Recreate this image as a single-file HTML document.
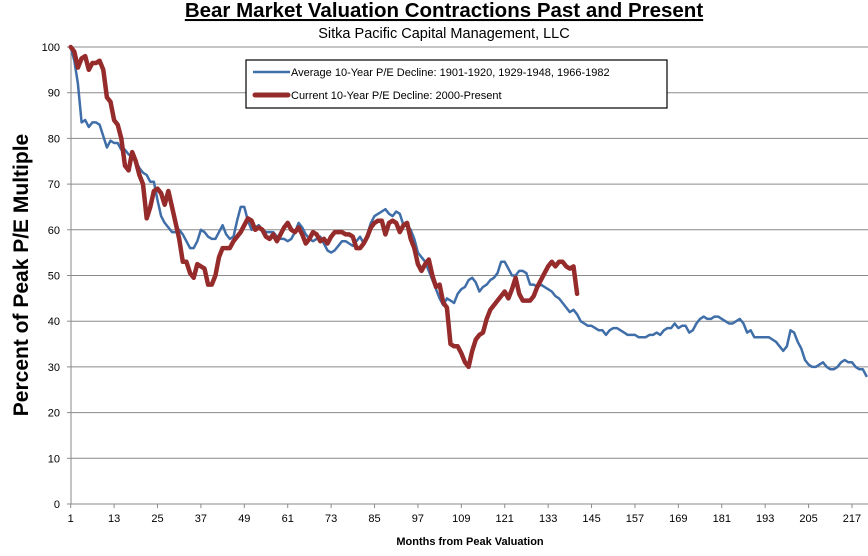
<!DOCTYPE html>
<html><head><meta charset="utf-8"><style>
html,body{margin:0;padding:0;background:#fff;}
svg text{font-family:"Liberation Sans",sans-serif;}
</style></head><body>
<svg id="chart" width="868" height="551" xmlns="http://www.w3.org/2000/svg">
<text x="444" y="17" text-anchor="middle" font-size="20.5" font-weight="bold" text-decoration="underline">Bear Market Valuation Contractions Past and Present</text>
<text x="444" y="38" text-anchor="middle" font-size="14.5">Sitka Pacific Capital Management, LLC</text>
<g id="grid"></g>
<g id="axes"></g>
<g id="series"></g>
<text transform="translate(28,275) rotate(-90)" text-anchor="middle" font-size="21" font-weight="bold">Percent of Peak P/E Multiple</text>
<text x="470" y="545" text-anchor="middle" font-size="11" font-weight="bold">Months from Peak Valuation</text>
<g>
<rect x="246" y="60" width="421" height="48" fill="#fff" stroke="#000" stroke-width="1.2"/>
<line x1="253" y1="72" x2="290" y2="72" stroke="#3f6ea8" stroke-width="2.5"/>
<text x="291" y="76" font-size="11">Average 10-Year P/E Decline: 1901-1920, 1929-1948, 1966-1982</text>
<line x1="255" y1="95" x2="288" y2="95" stroke="#952b2b" stroke-width="5" stroke-linecap="round"/>
<text x="291" y="99" font-size="11">Current 10-Year P/E Decline: 2000-Present</text>
</g>
</svg>
<script>
const yTicks=[0,10,20,30,40,50,60,70,80,90,100];
const xTickLabels=[1,13,25,37,49,61,73,85,97,109,121,133,145,157,169,181,193,205,217];
const averageDecline=[100,97,92,83.5,84,82.5,83.5,83.5,83,80.5,78,79.5,79,79,77.5,77.5,76.5,76,75,73.5,72.5,72,70.5,70.5,66.5,63,61.5,60.5,59.5,59.5,60,59,57.5,56,56,57.5,60,59.5,58.5,58,58,59.5,61,59,58,58.5,62,65,65,62,60,60.5,61,60,59.5,59.5,59.5,58.5,58,58,57.5,58,59.5,61.5,60.5,59,58,57.5,58,58.5,57,55.5,55,55.5,56.5,57.5,57.5,57,56.5,57.5,58.5,57,59,61.5,63,63.5,64,64.5,63.5,63,64,63.5,61,61,60,58,55,54,53,51,49,47,45,43.5,45,44.5,44,46,47,47.5,49,49.5,48.5,46.5,47.5,48,49,49.5,50.5,53,53,51.5,50,50,51,51,50.5,48,48,47.5,48,47.5,47,46.5,45.5,45,44,43,42,42.5,41.5,40,39.5,39,39,38.5,38,38,37,38,38.5,38.5,38,37.5,37,37,37,36.5,36.5,36.5,37,37,37.5,37,38,38.5,38.5,39.5,38.5,39,39,37.5,38,39.5,40.5,41,40.5,40.5,41,41,40.5,40,39.5,39.5,40,40.5,39.5,37.5,38,36.5,36.5,36.5,36.5,36.5,36,35.5,34.5,33.5,34.5,38,37.5,35.5,34,31.5,30.5,30,30,30.5,31,30,29.5,29.5,30,31,31.5,31,31,30,29.5,29.5,28];
const currentDecline=[100,99,95.5,97.5,98,95,96.5,96.5,97,95,89,88,84,83,80,74,73,77,75,72,70,62.5,65,68.5,69,68,65.5,68.5,65,61.5,58,53,53,50.5,49.5,52.5,52,51.5,48,48,50,54,56,56,56,57.5,58.5,59.5,61,62.5,62,60,60.5,60,58.5,58,59,57.5,59,60.5,61.5,60,59.5,60.5,59,57,58,59.5,59,57.5,58,57,58.5,59.5,59.5,59.5,59,59,58.5,56,56,57,58.5,60.5,61.5,62,62,59,61.5,62,61.5,59.5,61,61.5,58,56,52.5,51,52.5,53.5,50,47.5,48,44,43,35,34.5,34.5,33,31,30,33.5,36,37,37.5,40.5,42.5,43.5,44.5,45.5,46.5,45,47,49.5,46,44.5,44.5,44.5,45.5,47.5,49,50.5,52,53,52,53,53,52,51.5,52,46];

const NS="http://www.w3.org/2000/svg";
const X0=70.7, DX=3.617, Y0=504, DY=4.57;
function xs(m){return X0+(m-1)*DX;}
function ys(v){return Y0-v*DY;}
const grid=document.getElementById('grid'), axes=document.getElementById('axes'), ser=document.getElementById('series');
function mk(tag,attrs,parent){const e=document.createElementNS(NS,tag);for(const k in attrs)e.setAttribute(k,attrs[k]);parent.appendChild(e);return e;}
yTicks.forEach(v=>{
  if(v>0){const g=mk('line',{x1:71,x2:868,y1:ys(v),y2:ys(v),stroke:'#8a8a8a','stroke-width':1},grid);
  
  }
  const t=mk('text',{x:60,y:ys(v)+4,'text-anchor':'end','font-size':11},axes);
  t.textContent=v;
  
  
  mk('line',{x1:67,x2:71,y1:ys(v),y2:ys(v),stroke:'#8a8a8a'},axes);
});
const ya=mk('line',{x1:71,x2:71,y1:ys(100),y2:Y0,stroke:'#8a8a8a'},axes);


const xa=mk('line',{x1:71,x2:868,y1:Y0,y2:Y0,stroke:'#8a8a8a'},axes);


xTickLabels.forEach(m=>{
  mk('line',{x1:xs(m),x2:xs(m),y1:Y0,y2:Y0+4,stroke:'#8a8a8a'},axes);
  const t=mk('text',{x:xs(m),y:Y0+18,'text-anchor':'middle','font-size':11},axes);
  t.textContent=m;
  
  
});
function line(data,color,w,name){
  const d=data.map((v,i)=>(i?'L':'M')+xs(i+1).toFixed(1)+','+ys(v).toFixed(1)).join('');
  const p=mk('path',{d:d,fill:'none',stroke:color,'stroke-width':w,'stroke-linejoin':'round','stroke-linecap':'round'},ser);
  
  
}
line(averageDecline,'#3f6ea8',2.5,'average-decline-line');
line(currentDecline,'#952b2b',4.5,'current-decline-line');
</script>
</body></html>
